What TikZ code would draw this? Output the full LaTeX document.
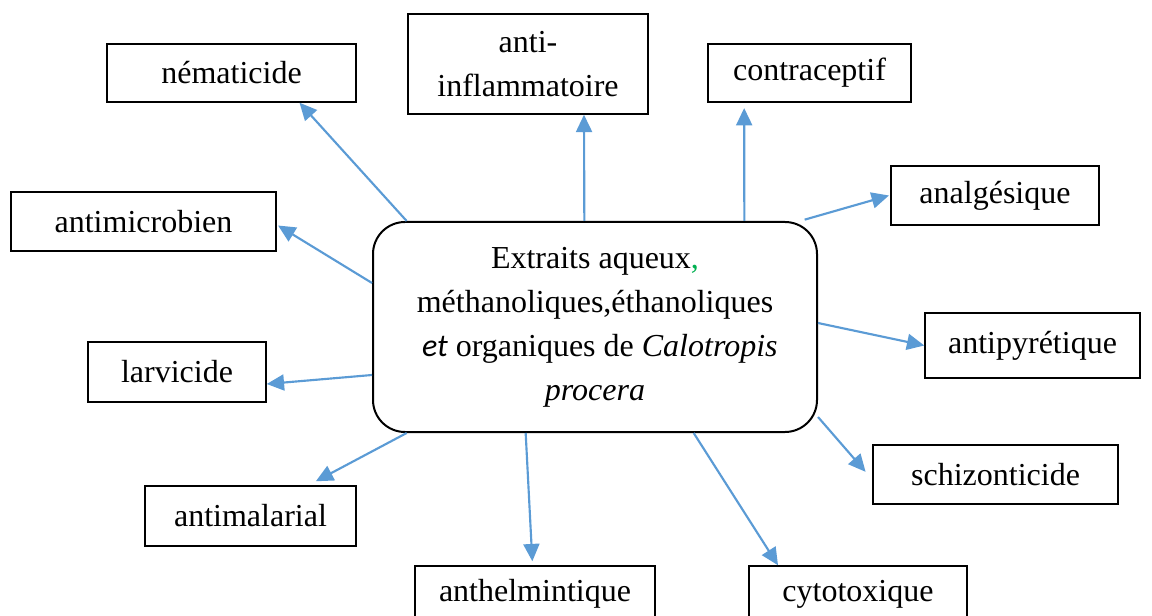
\documentclass[tikz,border=0pt]{standalone}
\usepackage{fontspec}
\setmainfont{Liberation Serif}
\newfontfamily\calibri{Carlito}
\usetikzlibrary{arrows.meta}
\definecolor{lien}{RGB}{91,155,213}
\definecolor{vert}{RGB}{0,176,80}

\begin{document}
\begin{tikzpicture}[x=0.75pt,y=-0.75pt,font=\fontsize{24}{33}\selectfont,
  effet/.style={draw,line width=1.1pt,inner sep=0pt,align=center},
  extrait/.style={draw,line width=1.5pt,rounded corners=24pt,align=center,
    minimum width=333pt,minimum height=157.5pt},
  fl/.style={color=lien,line width=1.6pt,-{Triangle[length=13pt,width=12pt]}}]
   \useasboundingbox (0,0) rectangle (1152,616);
   \node[extrait] (ext) at (595,327)
     {Extraits aqueux{\color{vert},}\\
      méthanoliques,éthanoliques\hspace*{0.6em}\\
      \hspace*{0.3em}{\calibri\itshape et} organiques de \textit{Calotropis}\\
      \textit{procera}};
   \node[effet,minimum width=186.75pt,minimum height=43.5pt]  (nem) at (231.5,73)  {nématicide};
   \node[effet,minimum width=180pt,minimum height=75pt]       (inf) at (528,64)    {anti-\\inflammatoire};
   \node[effet,minimum width=152.25pt,minimum height=43.5pt]  (con) at (809.5,73)  {contraceptif};
   \node[effet,minimum width=198.75pt,minimum height=44.25pt] (mic) at (143.5,221.5) {antimicrobien};
   \node[effet,minimum width=156pt,minimum height=44.25pt]    (ana) at (995,195.5) {analgésique};
   \node[effet,minimum width=133.5pt,minimum height=45pt]     (lar) at (177,372)   {larvicide};
   \node[effet,minimum width=161.25pt,minimum height=48.75pt] (pyr) at (1032.5,345.5) {antipyrétique};
   \node[effet,minimum width=158.25pt,minimum height=45pt]    (mal) at (250.5,516) {antimalarial};
   \node[effet,minimum width=183.75pt,minimum height=44.25pt] (sch) at (995.5,474.5) {schizonticide};
   \node[effet,minimum width=180pt,minimum height=42pt]       (ant) at (535,594)   {anthelmintique};
   \node[effet,minimum width=163.5pt,minimum height=42pt]     (cyt) at (858,594)   {cytotoxique};
   \path
    ([xshift=26pt]ext.north west)  edge[fl] ([xshift=51pt]nem.south)
    ([xshift=-8pt]ext.north)       edge[fl] ([xshift=42pt]inf.south)
    ([xshift=112pt]ext.north)      edge[fl] ([xshift=-49pt,yshift=-4pt]con.south)
    ([xshift=-10pt,yshift=1pt]ext.north east) edge[fl] ([xshift=-1pt]ana.west)
    ([yshift=33pt]ext.west)        edge[fl] ([yshift=-3pt,xshift=1pt]mic.east)
    ([yshift=3pt]ext.east)         edge[fl] (pyr.west)
    ([yshift=-36pt]ext.west)       edge[fl] ([yshift=-9pt]lar.east)
    ([yshift=12pt]ext.south east)  edge[fl] ([xshift=-5pt,yshift=2pt]sch.west)
    ([xshift=26pt]ext.south west)  edge[fl] ([xshift=49pt,yshift=3pt]mal.north)
    ([xshift=-52pt]ext.south)      edge[fl] ([xshift=-2pt,yshift=3pt]ant.north)
    ([xshift=74pt]ext.south)       edge[fl] ([xshift=-60pt]cyt.north);
\end{tikzpicture}
\end{document}
